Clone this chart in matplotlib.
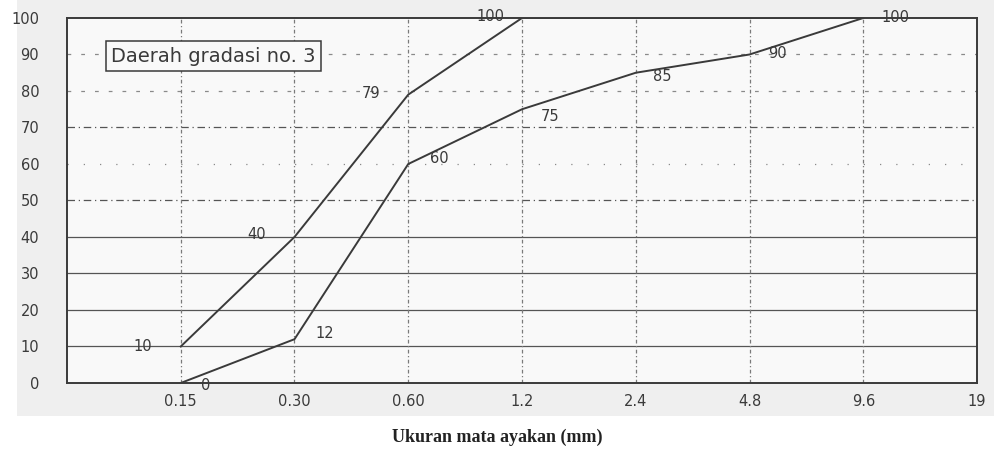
import matplotlib
matplotlib.use("Agg")
import matplotlib.pyplot as plt
from matplotlib.patches import Rectangle

plt.rcParams["font.family"] = ["DejaVu Sans"]

# Sieve sizes (mm) and grading limits for zone no. 3
sieve_labels = ["0.15", "0.30", "0.60", "1.2", "2.4", "4.8", "9.6", "19"]
upper_limit = [10, 40, 79, 100, 100, 100, 100]
lower_limit = [0, 12, 60, 75, 85, 90, 100]
y_ticks = [0, 10, 20, 30, 40, 50, 60, 70, 80, 90, 100]

positions = list(range(1, len(sieve_labels) + 1))
ink = "#3a3a3a"

fig = plt.figure(figsize=(9.95, 4.54), dpi=100)
fig.patch.set_facecolor("white")
fig.add_artist(Rectangle((0.017, 0.084), 0.983, 0.916, transform=fig.transFigure,
                         facecolor="#efefef", edgecolor="none", zorder=-10))

ax = fig.add_axes([0.0673, 0.1564, 0.9147, 0.804])
ax.set_facecolor("#f9f9f9")
ax.set_xlim(0, 8)
ax.set_ylim(0, 100)

# horizontal reference lines
h_styles = {10: "-", 20: "-", 30: "-", 40: "-", 50: (0, (6, 3, 1, 3)),
            60: (0, (1, 12)), 70: (0, (6, 3, 1, 3)), 80: (0, (3, 8)), 90: (0, (3, 8))}
for yv, ls in h_styles.items():
    faint = isinstance(ls, tuple) and ls[1][1] > 6
    ax.axhline(yv, color="#8a8a8a" if faint else "#555555", lw=0.9, ls=ls, zorder=1)

# vertical reference lines at each sieve size
for xp in positions[:-1]:
    ax.axvline(xp, color="#7a7a7a", lw=0.9, ls=(0, (3, 2, 1, 2)), zorder=1)

ax.plot(positions[:len(upper_limit)], upper_limit, color=ink, lw=1.4, zorder=3)
ax.plot(positions[:len(lower_limit)], lower_limit, color=ink, lw=1.4, zorder=3)

# value labels
up_off = [(-27, 0), (-27, 2), (-27, 1), (-23, 1)]
for (dx, dy), xp, v in zip(up_off, positions, upper_limit):
    ax.annotate(str(v), (xp, v), xytext=(dx, dy), textcoords="offset points",
                ha="center", va="center", fontsize=10.5, color=ink, zorder=4)
lo_off = [(18, -2), (22, 4), (22, 4), (20, -5), (19, -3), (20, 1), (23, 0)]
for (dx, dy), xp, v in zip(lo_off, positions, lower_limit):
    ax.annotate(str(v), (xp, v), xytext=(dx, dy), textcoords="offset points",
                ha="center", va="center", fontsize=10.5, color=ink, zorder=4)

ax.text(1.29, 89.5, "Daerah gradasi no. 3", fontsize=14, color=ink, ha="center",
        va="center", zorder=5,
        bbox=dict(boxstyle="square,pad=0.28", facecolor="#f9f9f9", edgecolor=ink, lw=1.1))

ax.set_xticks(positions)
ax.set_xticklabels(sieve_labels)
ax.set_yticks(y_ticks)
ax.tick_params(length=0, labelsize=10.5, labelcolor=ink, pad=8)
ax.tick_params(axis="y", pad=20)
for s in ax.spines.values():
    s.set_color(ink)
    s.set_linewidth(1.4)

fig.text(0.5, 0.037, "Ukuran mata ayakan (mm)", ha="center", va="center",
         fontsize=13, fontweight="bold", family="Liberation Serif", color="#222222")

fig.savefig("out.png", dpi=100)
